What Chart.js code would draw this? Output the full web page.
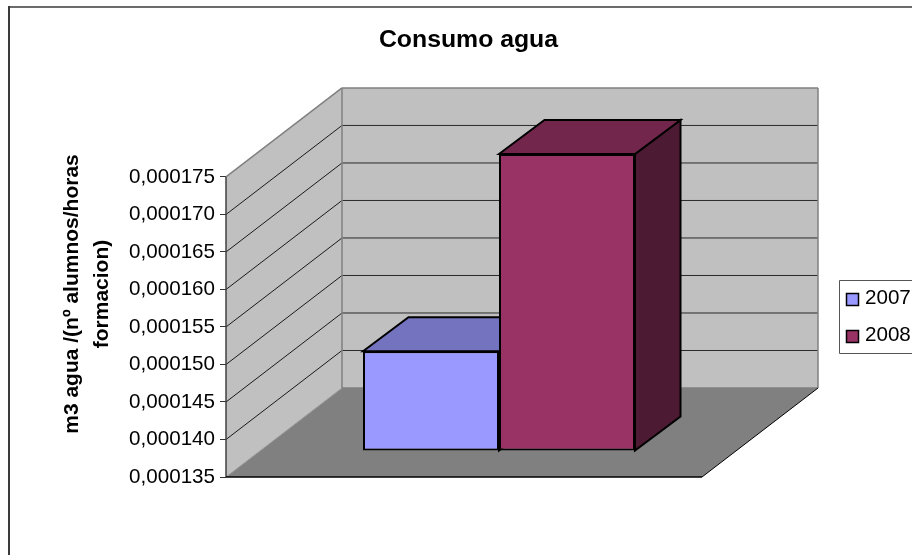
<!DOCTYPE html>
<html>
<head>
<meta charset="utf-8">
<style>html,body{margin:0;padding:0;background:#fff;overflow:hidden}canvas{display:block}</style>
<script src="https://cdn.jsdelivr.net/npm/chart.js@4"></script>
</head>
<body>
<canvas id="c" width="912" height="555"></canvas>
<script>
const categories = ["Consumo"];
const seriesNames = ["2007", "2008"];
const values2007 = [0.0001483];
const values2008 = [0.0001746];
const yTicks = [0.000135,0.00014,0.000145,0.00015,0.000155,0.00016,0.000165,0.00017,0.000175];
const chartTitle = "Consumo agua";
const yTitle = ["m3 agua /(nº alumnos/horas", "formacion)"];

const FONT = "'Liberation Sans', Arial, sans-serif";
const faces = [
  {front:"#9999FF", top:"#7373BF", side:"#4D4D80"},
  {front:"#993366", top:"#72264C", side:"#4D1A33"}
];
const WALL_DX = 116, WALL_DY = -89;     // projection of the chart's depth
const BAR_DX = 35, BAR_DY = -26;        // bars stand inside the floor
const BAR_DEPTH_X = 45.5, BAR_DEPTH_Y = -34;

function poly(ctx, pts, fill, stroke, lw){
  ctx.beginPath();
  pts.forEach((p,i)=> i ? ctx.lineTo(p[0],p[1]) : ctx.moveTo(p[0],p[1]));
  ctx.closePath();
  if(fill){ctx.fillStyle=fill;ctx.fill();}
  if(stroke){ctx.strokeStyle=stroke;ctx.lineWidth=lw||1;ctx.stroke();}
}
function line(ctx, x0,y0,x1,y1,color,lw){
  ctx.beginPath();ctx.moveTo(x0,y0);ctx.lineTo(x1,y1);
  ctx.strokeStyle=color;ctx.lineWidth=lw||1;ctx.stroke();
}

const box3d = {
  id:"box3d",
  afterLayout(chart){
    const y = chart.scales.y, proto = Object.getPrototypeOf(y);
    y.drawTitle = function(){
      const c = this.ctx; c.save(); c.translate(0,-33);
      proto.drawTitle.call(this); c.restore();
    };
  },
  beforeDraw(chart){
    const ctx = chart.ctx;
    ctx.save();
    ctx.fillStyle="#fff";ctx.fillRect(0,0,chart.width,chart.height);
    line(ctx,9,6,9,555,"#3a3a3a",2);
    line(ctx,8,7,912,7,"#3a3a3a",1.5);
    ctx.restore();
  },
  beforeDatasetsDraw(chart){
    const ctx = chart.ctx, a = chart.chartArea, ys = chart.scales.y;
    const L=a.left,R=a.right,T=a.top,B=a.bottom,dx=WALL_DX,dy=WALL_DY;
    ctx.save();
    // walls and floor
    poly(ctx,[[L+dx,T+dy],[R+dx,T+dy],[R+dx,B+dy],[L+dx,B+dy]],"#C0C0C0");
    poly(ctx,[[L,T],[L+dx,T+dy],[L+dx,B+dy],[L,B]],"#C0C0C0");
    poly(ctx,[[L,B],[R,B],[R+dx,B+dy],[L+dx,B+dy]],"#808080");
    // grid lines from the value scale
    yTicks.slice(1,-1).forEach(v=>{
      const p = ys.getPixelForValue(v);
      line(ctx,L,p,L+dx,p+dy,"#1a1a1a",1);
      line(ctx,L+dx,p+dy,R+dx,p+dy,"#2a2a2a",1);
    });
    // wall edges
    line(ctx,L,T,L+dx,T+dy,"#808080",1.5);
    line(ctx,L+dx,T+dy,R+dx,T+dy,"#808080",1.5);
    line(ctx,R+dx,T+dy,R+dx,B+dy,"#808080",1.5);
    line(ctx,L+dx,T+dy,L+dx,B+dy,"#808080",1.5);
    line(ctx,L+dx,B+dy,R+dx,B+dy,"#808080",1.5);
    line(ctx,L,B,L+dx,B+dy,"#999999",1);
    line(ctx,L,T,L,B,"#404040",1.5);
    line(ctx,L,B,R,B,"#000",1.5);
    line(ctx,R,B,R+dx,B+dy,"#000",1);
    // top and side faces of every bar, from the bar elements
    chart.data.datasets.forEach((d,i)=>{
      chart.getDatasetMeta(i).data.forEach(bar=>{
        const hw=bar.width/2;
        const x0=bar.x-hw+BAR_DX,x1=bar.x+hw+BAR_DX,yt=bar.y+BAR_DY,yb=bar.base+BAR_DY;
        const ddx=BAR_DEPTH_X,ddy=BAR_DEPTH_Y;
        poly(ctx,[[x1,yt],[x1+ddx,yt+ddy],[x1+ddx,yb+ddy],[x1,yb]],faces[i].side,"#000",2);
        poly(ctx,[[x0,yt],[x0+ddx,yt+ddy],[x1+ddx,yt+ddy],[x1,yt]],faces[i].top,"#000",2);
      });
    });
    ctx.restore();
    ctx.save();
    ctx.translate(BAR_DX,BAR_DY);
  },
  afterDatasetsDraw(chart){
    const ctx = chart.ctx;
    ctx.restore();
    // legend
    ctx.save();
    poly(ctx,[[839.5,280.5],[914,280.5],[914,353.5],[839.5,353.5]],"#fff","#555",1);
    ctx.font="20.6px "+FONT;
    ctx.textBaseline="middle";ctx.textAlign="left";
    chart.data.datasets.forEach((d,i)=>{
      const cy=299.5+i*37;
      ctx.fillStyle=d.backgroundColor;
      ctx.fillRect(846.5,cy-6,12,12);
      ctx.strokeStyle="#000";ctx.lineWidth=1.5;
      ctx.strokeRect(846.5,cy-6,12,12);
      ctx.fillStyle="#000";
      ctx.fillText(d.label,865,cy-1);
    });
    ctx.restore();
  }
};

new Chart(document.getElementById("c"),{
  type:"bar",
  data:{
    labels:categories,
    datasets:[
      {label:seriesNames[0],data:values2007,backgroundColor:faces[0].front},
      {label:seriesNames[1],data:values2008,backgroundColor:faces[1].front}
    ]
  },
  options:{
    responsive:false,
    animation:false,
    devicePixelRatio:1,
    layout:{padding:{left:25,right:0,top:0,bottom:78}},
    datasets:{bar:{clip:false,base:yTicks[0],borderColor:"#000",borderWidth:2,borderSkipped:false,categoryPercentage:272/476,barPercentage:1}},
    plugins:{
      legend:{display:false},
      tooltip:{enabled:false},
      title:{display:true,text:chartTitle,color:"#000",
        font:{family:FONT,size:24.8,weight:"bold",lineHeight:1.2},
        padding:{top:25,bottom:122.2}}
    },
    scales:{
      x:{display:false},
      y:{
        min:yTicks[0],max:yTicks[yTicks.length-1],
        afterBuildTicks(s){s.ticks=yTicks.map(v=>({value:v}));},
        afterFit(s){s.width=201;},
        border:{display:false},
        grid:{drawOnChartArea:false,drawTicks:true,tickLength:6,color:"#333"},
        ticks:{padding:5,color:"#000",font:{family:FONT,size:20.6},
          callback:v=>Number(v).toFixed(6).replace(".",",")},
        title:{display:true,text:yTitle,color:"#000",
          font:{family:FONT,size:21,weight:"bold",lineHeight:1.43},
          padding:{top:32,bottom:0}}
      },
      spacer:{
        position:"right",axis:"y",
        afterFit(s){s.width=210;},
        border:{display:false},
        grid:{display:false},
        ticks:{display:false}
      }
    }
  },
  plugins:[box3d]
});
</script>
</body>
</html>
